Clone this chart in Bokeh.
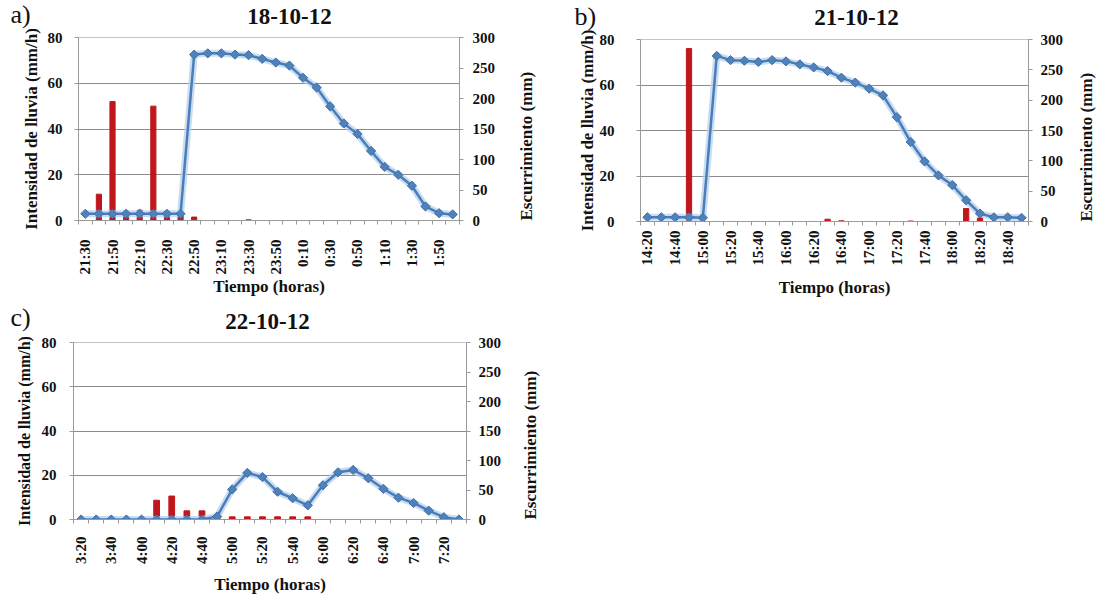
import math

from bokeh.core.properties import value
from bokeh.embed import file_html
from bokeh.layouts import column, row
from bokeh.models import FixedTicker, LinearAxis, Range1d
from bokeh.plotting import figure
from bokeh.resources import INLINE

# ---- 18-10-12 -------------------------------------------------------------
title_a = "18-10-12"
times_a = ["21:30", "21:40", "21:50", "22:00", "22:10", "22:20", "22:30",
           "22:40", "22:50", "23:00", "23:10", "23:20", "23:30", "23:40",
           "23:50", "0:00", "0:10", "0:20", "0:30", "0:40", "0:50", "1:00",
           "1:10", "1:20", "1:30", "1:40", "1:50", "2:00"]
rain_a = [0, 11.5, 52, 4, 4.5, 50, 4, 3.5, 1.5, 0, 0, 0, 0.3, 0,
          0, 0, 0, 0, 0, 0, 0, 0, 0, 0, 0, 0, 0, 0]
runoff_a = [11, 11, 11, 11, 11, 11, 11, 11, 272, 274, 274, 272, 271, 265,
            259, 254, 234, 218, 187, 159, 142, 114, 88, 75, 57, 23, 12, 10]

# ---- 21-10-12 -------------------------------------------------------------
title_b = "21-10-12"
times_b = ["14:20", "14:30", "14:40", "14:50", "15:00", "15:10", "15:20",
           "15:30", "15:40", "15:50", "16:00", "16:10", "16:20", "16:30",
           "16:40", "16:50", "17:00", "17:10", "17:20", "17:30", "17:40",
           "17:50", "18:00", "18:10", "18:20", "18:30", "18:40", "18:50"]
rain_b = [0, 0, 0, 76, 0, 0, 0, 0, 0, 0, 0, 0, 0, 1.0,
          0.3, 0, 0, 0, 0, 0.2, 0, 0, 0, 5.7, 1.5, 0, 0, 0]
runoff_b = [7, 7, 7, 7, 6, 273, 266, 265, 263, 266, 264, 259, 254, 248,
            237, 229, 219, 208, 172, 131, 99, 76, 60, 35, 13, 7, 7, 6]

# ---- 22-10-12 -------------------------------------------------------------
title_c = "22-10-12"
times_c = ["3:20", "3:30", "3:40", "3:50", "4:00", "4:10", "4:20", "4:30",
           "4:40", "4:50", "5:00", "5:10", "5:20", "5:30", "5:40", "5:50",
           "6:00", "6:10", "6:20", "6:30", "6:40", "6:50", "7:00", "7:10",
           "7:20", "7:30"]
rain_c = [0, 0, 0, 0, 0, 8.7, 10.6, 3.9, 3.9, 1.5, 1.2, 1.2, 1.2, 1.2,
          1.2, 1.2, 0, 0, 0, 0, 0, 0, 0, 0, 0, 0]
runoff_c = [0, 0, 0, 0, 0, 0, 0, 0, 0, 5, 51, 79, 72, 47, 36, 24,
            58, 80, 84, 70, 52, 37, 28, 15, 4, 0]

rain_ticks = [0, 20, 40, 60, 80]
runoff_ticks = [0, 50, 100, 150, 200, 250, 300]

SERIF = "Liberation Serif"
INK = "#111111"
BAR = "#c0161c"
LINE = "#4a7dba"
GLOW = "#b7d1ec"
AXIS = "#9a9a9a"
GRID = "#8c8c8c"


def style_axis(ax):
    ax.axis_line_color = AXIS
    ax.major_tick_line_color = AXIS
    ax.minor_tick_line_color = AXIS
    ax.major_label_text_font = SERIF
    ax.major_label_text_font_style = "bold"
    ax.major_label_text_font_size = "15px"
    ax.major_label_text_color = INK
    ax.axis_label_text_font = SERIF
    ax.axis_label_text_font_style = "bold"
    ax.axis_label_text_font_size = "17px"
    ax.axis_label_text_color = INK


def header(width, height, letter, letter_xy, title, title_xy):
    """Strip above a chart holding the panel letter and the date title."""
    h = figure(width=width, height=height,
               x_range=Range1d(0, width), y_range=Range1d(height, 0),
               x_axis_type=None, y_axis_type=None,
               min_border_left=0, min_border_right=0,
               min_border_top=0, min_border_bottom=0,
               frame_align=False,
               outline_line_color=None, output_backend="svg",
               toolbar_location=None)
    h.text(x=[letter_xy[0]], y=[letter_xy[1]], text=[letter],
           text_font=value(SERIF), text_font_size="26px",
           text_align="left", text_baseline="middle", text_color=INK)
    h.text(x=[title_xy[0]], y=[title_xy[1]], text=[title],
           text_font=value(SERIF), text_font_style="bold",
           text_font_size="23px", text_align="center",
           text_baseline="middle", text_color=INK)
    return h


def chart(times, rain, runoff, width, height, borders, opts):
    left, right, top, bottom = borders
    n = len(times)
    xs = list(range(n))

    p = figure(width=width, height=height,
               x_range=Range1d(-0.5, n - 0.5), y_range=Range1d(0, 80),
               min_border_left=left, min_border_right=right,
               min_border_top=top, min_border_bottom=bottom,
               frame_align=False,
               output_backend="svg", toolbar_location=None,
               background_fill_color="white", border_fill_color="white",
               outline_line_color="#c4c4c4")
    p.extra_y_ranges = {"run": Range1d(0, 300)}

    p.xgrid.visible = False
    p.ygrid.ticker = FixedTicker(ticks=[20, 40, 60, 80])
    p.ygrid.grid_line_color = GRID

    # left axis: rain intensity
    ya = p.yaxis[0]
    ya.ticker = FixedTicker(ticks=rain_ticks)
    style_axis(ya)
    ya.major_tick_in = 0
    ya.major_tick_out = 4
    ya.minor_tick_out = 0
    ya.major_label_standoff = opts["left_standoff"]
    ya.axis_label = "Intensidad de lluvia (mm/h)"
    ya.axis_label_text_font_size = opts.get("left_label_size", "17px")
    ya.axis_label_standoff = opts["left_label_standoff"]

    # bottom axis: time, labelled every second interval
    xa = p.xaxis[0]
    xa.ticker = FixedTicker(ticks=list(range(0, n, 2)),
                            minor_ticks=[i - 0.5 for i in range(n + 1)])
    xa.major_label_overrides = {i: times[i] for i in range(0, n, 2)}
    xa.major_label_orientation = math.pi / 2
    style_axis(xa)
    xa.major_tick_in = 0
    xa.major_tick_out = 0
    xa.minor_tick_in = 0
    xa.minor_tick_out = 4
    xa.major_label_standoff = opts["bottom_standoff"]
    xa.axis_label = "Tiempo (horas)"
    xa.axis_label_standoff = opts["bottom_label_standoff"]

    # right axis: runoff
    ra = LinearAxis(y_range_name="run", ticker=FixedTicker(ticks=runoff_ticks))
    style_axis(ra)
    ra.major_tick_in = 0
    ra.major_tick_out = 4
    ra.minor_tick_out = 0
    ra.major_label_standoff = opts["right_standoff"]
    ra.axis_label = "Escurrimiento (mm)"
    ra.axis_label_orientation = math.pi / 2
    ra.axis_label_align = "start"
    ra.axis_label_standoff = opts["right_label_standoff"]
    p.add_layout(ra, "right")

    # rain bars
    p.vbar(x=xs, top=rain, width=0.38, fill_color=BAR, line_color=BAR)

    # runoff line with soft halo and diamond markers
    p.line(xs, runoff, y_range_name="run", line_color=GLOW, line_width=7,
           line_alpha=0.75, line_join="round")
    p.line(xs, runoff, y_range_name="run", line_color=LINE, line_width=2.5,
           line_join="round")
    p.scatter(xs, runoff, y_range_name="run", marker="square",
              angle=math.pi / 4, size=6.5, fill_color="#4f82bd",
              line_color="#3f6fa6", line_width=1)
    return p


W = 554

ha = header(W, 29, "a)", (10, 14), title_a, (289, 15.5))
pa = chart(times_a, rain_a, runoff_a, W, 271, (78, 95, 8, 80),
           dict(left_standoff=12, left_label_standoff=4,
                bottom_standoff=15, bottom_label_standoff=0,
                right_standoff=9, right_label_standoff=28))

hb = header(W, 30, "b)", (20, 16), title_b, (302, 17))
pb = chart(times_b, rain_b, runoff_b, W, 270, (86, 74, 9, 79),
           dict(left_standoff=22, left_label_standoff=0,
                bottom_standoff=5, bottom_label_standoff=10,
                right_standoff=8, right_label_standoff=20))

hc = header(W, 32, "c)", (10, 17), title_c, (267, 20.5))
pc = chart(times_c, rain_c, runoff_c, W, 264, (73, 88, 10, 71),
           dict(left_standoff=13, left_label_standoff=6,
                left_label_size="16px",
                bottom_standoff=13, bottom_label_standoff=8,
                right_standoff=8, right_label_standoff=26))

layout = column(row(column(ha, pa, spacing=0), column(hb, pb, spacing=0),
                    spacing=0),
                column(hc, pc, spacing=0),
                spacing=0)

open("out.html", "w").write(file_html(layout, INLINE))
